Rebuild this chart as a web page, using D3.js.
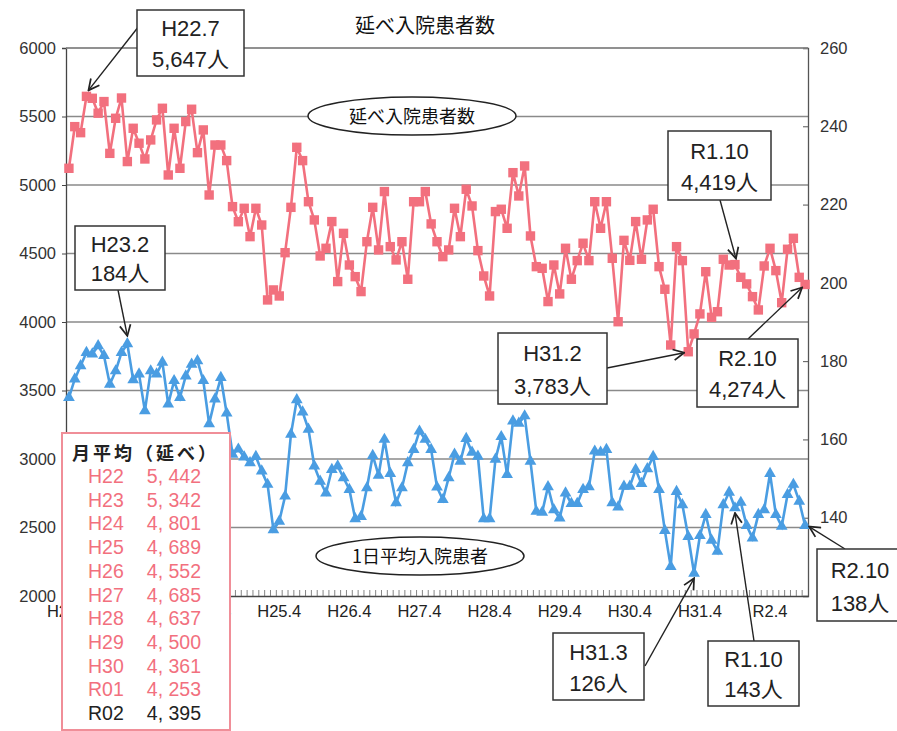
<!DOCTYPE html>
<html><head><meta charset="utf-8">
<script src="https://cdn.jsdelivr.net/npm/d3@7"></script>
<style>
body{margin:0;background:#fff;}
svg{display:block;}
</style></head>
<body>
<svg id="c" width="897" height="731"></svg>
<script>
const months = [
"H22.4","H22.5","H22.6","H22.7","H22.8","H22.9","H22.10","H22.11","H22.12",
"H23.1","H23.2","H23.3","H23.4","H23.5","H23.6","H23.7","H23.8","H23.9","H23.10","H23.11","H23.12",
"H24.1","H24.2","H24.3","H24.4","H24.5","H24.6","H24.7","H24.8","H24.9","H24.10","H24.11","H24.12",
"H25.1","H25.2","H25.3","H25.4","H25.5","H25.6","H25.7","H25.8","H25.9","H25.10","H25.11","H25.12",
"H26.1","H26.2","H26.3","H26.4","H26.5","H26.6","H26.7","H26.8","H26.9","H26.10","H26.11","H26.12",
"H27.1","H27.2","H27.3","H27.4","H27.5","H27.6","H27.7","H27.8","H27.9","H27.10","H27.11","H27.12",
"H28.1","H28.2","H28.3","H28.4","H28.5","H28.6","H28.7","H28.8","H28.9","H28.10","H28.11","H28.12",
"H29.1","H29.2","H29.3","H29.4","H29.5","H29.6","H29.7","H29.8","H29.9","H29.10","H29.11","H29.12",
"H30.1","H30.2","H30.3","H30.4","H30.5","H30.6","H30.7","H30.8","H30.9","H30.10","H30.11","H30.12",
"H31.1","H31.2","H31.3","H31.4","R1.5","R1.6","R1.7","R1.8","R1.9","R1.10","R1.11","R1.12",
"R2.1","R2.2","R2.3","R2.4","R2.5","R2.6","R2.7","R2.8","R2.9","R2.10"];

// 延べ入院患者数 (left axis)
const totalPatients = [
5122,5426,5382,5647,5633,5524,5609,5231,5487,5635,5171,5414,
5305,5190,5329,5475,5560,5073,5414,5122,5463,5553,5236,5402,
4927,5292,5292,5178,4842,4732,4830,4623,4830,4708,4161,4234,
4190,4506,4837,5275,5178,4878,4745,4482,4538,4733,4295,4647,
4416,4331,4222,4586,4837,4526,4952,4550,4453,4586,4312,4878,
4878,4952,4716,4586,4477,4526,4830,4623,4969,4847,4521,4336,
4190,4806,4823,4684,5090,4920,5139,4628,4404,4392,4149,4416,
4205,4538,4312,4448,4575,4448,4878,4684,4878,4465,4002,4596,
4450,4733,4458,4745,4823,4404,4239,3832,4550,4448,3783,3913,
4059,4367,4034,4075,4458,4416,4419,4326,4278,4185,4088,4409,
4538,4375,4141,4531,4611,4326,4274];

// 1日平均入院患者 (right axis)
const dailyPatients = [
170.7,175.4,178.8,182.2,181.8,183.9,181.4,174.1,177.5,182.2,184.4,175.2,
176.7,167.3,177.5,176.7,179.7,169.0,175.0,170.7,176.2,179.2,180.1,175.0,
164.0,170.3,175.8,166.7,156.2,157.5,155.5,154.0,155.6,151.9,148.5,136.9,
139.1,145.5,161.3,170.1,167.0,162.6,153.2,149.3,146.3,152.3,153.2,150.2,
147.2,139.7,140.3,147.6,155.9,150.8,160.0,151.3,143.8,147.6,154.0,157.4,
162.1,160.0,157.4,147.8,144.6,150.2,156.2,154.4,160.2,156.7,155.7,139.7,
139.7,154.9,160.7,151.0,164.7,164.1,166.0,154.4,141.6,141.4,147.9,142.0,
139.9,146.3,143.6,143.6,147.2,147.9,157.0,156.7,157.4,143.8,142.7,148.0,
148.0,152.3,148.7,152.5,155.6,147.2,136.7,127.5,146.7,143.3,135.2,125.8,
135.4,140.8,134.2,131.4,143.3,146.5,142.5,143.9,138.0,134.8,140.8,142.0,
151.3,140.8,137.8,145.9,148.5,144.2,138.0];

const xTickLabels = ["H22.4","H23.4","H24.4","H25.4","H26.4","H27.4","H28.4","H29.4","H30.4","H31.4","R2.4"];
const leftTicks = [2000,2500,3000,3500,4000,4500,5000,5500,6000];
const rightTicks = [140,160,180,200,220,240,260];

const tableYears = ["H22","H23","H24","H25","H26","H27","H28","H29","H30","R01","R02"];
const tableValues = ["5, 442","5, 342","4, 801","4, 689","4, 552","4, 685","4, 637","4, 500","4, 361","4, 253","4, 395"];

const RED = "#f2707e", BLUE = "#4a9de2";
const svg = d3.select("#c");
const L = 66, R = 808, T = 48, B = 596;

const x = d3.scaleBand().domain(months).range([L, R]).padding(0);
const cx = m => x(m) + x.bandwidth()/2;
const yL = d3.scaleLinear().domain([2000,6000]).range([B, T]);
const yR = d3.scaleLinear().domain([120,260]).range([B, T]);

const defs = svg.append("defs");
defs.append("marker").attr("id","arr").attr("viewBox","0 0 12 12")
  .attr("refX",11).attr("refY",6).attr("markerWidth",13).attr("markerHeight",13)
  .attr("markerUnits","userSpaceOnUse").attr("orient","auto")
  .append("path").attr("d","M1,1 L11,6 L1,11").attr("fill","none").attr("stroke","#222").attr("stroke-width",1.6);

const tickFont = "'Liberation Sans', Arial, sans-serif";
const jpFont = "'Noto Sans CJK JP', 'Noto Sans', sans-serif";

// gridlines
svg.append("g").selectAll("line").data(leftTicks.filter(d => d > 2000))
  .join("line").attr("x1", L).attr("x2", R).attr("y1", d => yL(d)).attr("y2", d => yL(d))
  .attr("stroke", "#8a8a8a").attr("stroke-width", 1.3);

// left axis
const gl = svg.append("g").attr("transform", `translate(${L},0)`)
  .call(d3.axisLeft(yL).tickValues(leftTicks).tickSize(4).tickPadding(6).tickFormat(d3.format("d")));
gl.select(".domain").attr("stroke", "#444").attr("stroke-width", 1.3);
gl.selectAll(".tick line").attr("stroke", "#444");
gl.selectAll("text").attr("font-family", tickFont).attr("font-size", 16.5).attr("fill", "#333");

// right axis
const gr = svg.append("g").attr("transform", `translate(${R},0)`)
  .call(d3.axisRight(yR).tickValues(rightTicks).tickSize(-5).tickPadding(12).tickFormat(d3.format("d")));
gr.select(".domain").attr("stroke", "#555").attr("stroke-width", 1.3);
gr.selectAll(".tick line").attr("stroke", "#555");
gr.selectAll("text").attr("font-family", tickFont).attr("font-size", 16.5).attr("fill", "#333");

// bottom axis with monthly ticks
const gb = svg.append("g").attr("transform", `translate(0,${B})`)
  .call(d3.axisBottom(x).tickValues(xTickLabels).tickSize(0).tickPadding(9));
gb.select(".domain").attr("stroke", "#444").attr("stroke-width", 1.3);
gb.selectAll("text").attr("font-family", tickFont).attr("font-size", 16.5).attr("fill", "#222");
svg.append("g").selectAll("line").data(months).join("line")
  .attr("x1", d => x(d)).attr("x2", d => x(d)).attr("y1", B).attr("y2", B - 6)
  .attr("stroke", "#666").attr("stroke-width", 0.8);

// top frame line
svg.append("line").attr("x1", L).attr("x2", R).attr("y1", T).attr("y2", T)
  .attr("stroke", "#8a8a8a").attr("stroke-width", 1.3);

// red series
svg.append("path").datum(totalPatients)
  .attr("d", d3.line().x((d,i) => cx(months[i])).y(d => yL(d)))
  .attr("fill","none").attr("stroke", RED).attr("stroke-width", 2.6);
svg.append("g").selectAll("rect").data(totalPatients).join("rect")
  .attr("x", (d,i) => cx(months[i]) - 4.7).attr("y", d => yL(d) - 4.7)
  .attr("width", 9.4).attr("height", 9.4).attr("fill", RED);

// blue series
svg.append("path").datum(dailyPatients)
  .attr("d", d3.line().x((d,i) => cx(months[i])).y(d => yR(d)))
  .attr("fill","none").attr("stroke", BLUE).attr("stroke-width", 2.6);
svg.append("g").selectAll("path").data(dailyPatients).join("path")
  .attr("transform", (d,i) => `translate(${cx(months[i])},${yR(d)})`)
  .attr("d", d3.symbol(d3.symbolTriangle, 60)).attr("fill", BLUE);

// title
svg.append("text").attr("x", 425).attr("y", 33).attr("text-anchor","middle")
  .attr("font-family", jpFont).attr("font-size", 20).attr("fill","#111").text("延べ入院患者数");

// ovals
function oval(cxp, cyp, rx, ry, label){
  svg.append("ellipse").attr("cx",cxp).attr("cy",cyp).attr("rx",rx).attr("ry",ry)
    .attr("fill","#fff").attr("stroke","#222").attr("stroke-width",1.5);
  svg.append("text").attr("x",cxp).attr("y",cyp+6.5).attr("text-anchor","middle")
    .attr("font-family", jpFont).attr("font-size", 18).attr("fill","#111").text(label);
}
oval(412, 116, 104, 19, "延べ入院患者数");
oval(420, 556, 104, 19, "1日平均入院患者");

// annotation boxes with arrows
function callout(bx, by, bw, bh, l1, l2, ax1, ay1, ax2, ay2){
  svg.append("line").attr("x1",ax1).attr("y1",ay1).attr("x2",ax2).attr("y2",ay2)
    .attr("stroke","#222").attr("stroke-width",1.4).attr("marker-end","url(#arr)");
  svg.append("rect").attr("x",bx).attr("y",by).attr("width",bw).attr("height",bh)
    .attr("fill","#fff").attr("stroke","#333").attr("stroke-width",1.5);
  const t = svg.append("text").attr("text-anchor","middle").attr("font-family", tickFont + ", " + jpFont)
    .attr("font-size", 22).attr("fill","#222");
  t.append("tspan").attr("x", bx + bw/2).attr("y", by + bh*0.40).text(l1);
  t.append("tspan").attr("x", bx + bw/2).attr("y", by + bh*0.86).text(l2);
}
const ptL = (i) => [cx(months[i]), yL(totalPatients[i])];
const ptR = (i) => [cx(months[i]), yR(dailyPatients[i])];
{
  let p = ptL(months.indexOf("H22.7"));
  callout(137, 10, 107, 66, "H22.7", "5,647人", 139, 26, p[0]+2, p[1]-6);
  p = ptL(months.indexOf("R1.10"));
  callout(668, 131, 103, 69, "R1.10", "4,419人", 720, 200, p[0]+1, p[1]-6);
  p = ptR(months.indexOf("H23.2"));
  callout(75, 226, 90, 64, "H23.2", "184人", 118, 290, p[0], p[1]-8);
  p = ptL(months.indexOf("H31.2"));
  callout(498, 333, 109, 71, "H31.2", "3,783人", 607, 368, p[0]-4, p[1]+1);
  p = ptL(months.indexOf("R2.10"));
  callout(697, 339, 101, 68, "R2.10", "4,274人", 748, 339, p[0]-3, p[1]+3);
  p = ptR(months.indexOf("R2.10"));
  callout(817, 549, 86, 72, "R2.10", "138人", 845, 549, p[0]+4, p[1]+1);
  p = ptR(months.indexOf("H31.3"));
  callout(553, 633, 91, 67, "H31.3", "126人", 645, 666, p[0], p[1]+5);
  p = ptR(months.indexOf("R1.10"));
  callout(708, 641, 91, 65, "R1.10", "143人", 754, 641, p[0], p[1]+5);
}

// monthly average table
const tb = svg.append("g");
tb.append("rect").attr("x", 62).attr("y", 433).attr("width", 168).attr("height", 297)
  .attr("fill","#fff").attr("stroke","#f08e98").attr("stroke-width",2);
tb.append("text").attr("x", 72).attr("y", 460).attr("font-family", jpFont).attr("font-weight", 700)
  .attr("font-size", 18).attr("textLength", 144).attr("lengthAdjust", "spacing")
  .attr("fill", "#222").text("月平均（延べ）");
const rowY = d3.scalePoint().domain(tableYears).range([483, 720]);
tb.selectAll("text.yr").data(tableYears).join("text").attr("class","yr")
  .attr("x", 88).attr("y", d => rowY(d))
  .attr("font-family", tickFont).attr("font-size", 19.5)
  .attr("fill", d => d === "R02" ? "#222" : RED).text(d => d);
tb.selectAll("text.val").data(tableValues).join("text").attr("class","val")
  .attr("x", 201).attr("y", (d,i) => rowY(tableYears[i])).attr("text-anchor","end")
  .attr("font-family", tickFont).attr("font-size", 19.5)
  .attr("fill", (d,i) => tableYears[i] === "R02" ? "#222" : RED).text(d => d);
</script>
</body></html>
